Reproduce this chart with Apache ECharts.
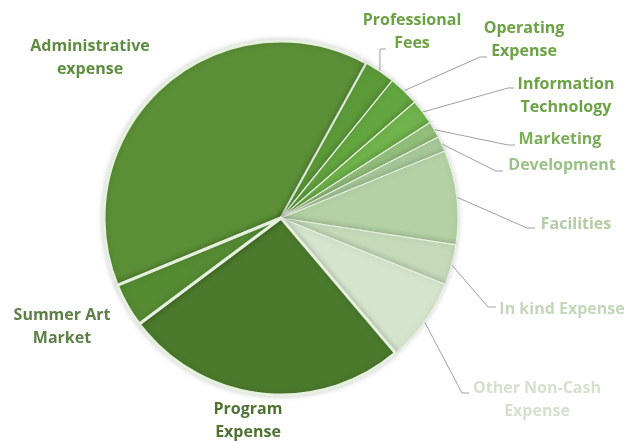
<!DOCTYPE html>
<html>
<head>
<meta charset="utf-8">
<script src="https://cdn.jsdelivr.net/npm/echarts@6/dist/echarts.min.js"></script>
<style>html,body{margin:0;padding:0;background:#fff}#c{width:629px;height:441px}</style>
</head>
<body>
<div id="c"></div>
<script>
// ---- data ----
const categories = ['Administrative\nexpense','Professional\nFees','Operating\nExpense','Information\nTechnology','Marketing','Development','Facilities','In kind Expense','Other Non-Cash\nExpense','Program\nExpense','Summer Art\nMarket'];
const values = [39.3, 2.8, 2.8, 2.3, 1.5, 1.4, 8.6, 3.7, 7.7, 26.0, 4.0];

// ---- styles ----
const sliceColors = ['#5b8f37','#5c9a39','#63a53f','#6fb34a','#93bf7b','#a7c999','#b4d1a5','#c4dab9','#d5e5cd','#4b7a2c','#558b33'];
const labelColors = ['#5e8c40','#6aa244','#6aa244','#6aa244','#79ad58','#9cc188','#b2cca5','#c4d7ba','#d5e1ce','#4d7232','#5e7f48'];
const showLine = [false,true,true,true,true,true,true,true,true,false,false];
const thick = [true,false,false,false,false,false,false,false,false,true,true];
// label text centre and leader elbow/end points
const labelPos = [[90,58],[412,32],[524,40],[566,96],[560,139],[562,165],[576,224],[562,309],[537,400],[248,421],[62,327]];
const elbows = [null,[[380,49],[386,49]],[[480,57],[487,57]],[[508,88],[514,88]],[[508,145],[515,145]],[[496,171],[503,171]],[[527,228],[535,228]],[[488,307],[496,307]],[[462,393],[469,393]],null,null];

const chart = echarts.init(document.getElementById('c'), null, {renderer:'canvas'});
const data = categories.map((n,i)=>({
  name:n, value:values[i],
  itemStyle:{color:sliceColors[i], borderColor:'#e6f0df', borderWidth: thick[i]?3:1.2},
  label:{color:labelColors[i]},
  labelLine:{show:showLine[i]}
}));
chart.setOption({
  animation:false,
  series:[{
    type:'pie',
    center:[281,218],
    radius:[0,177],
    startAngle:202.4,
    clockwise:true,
    data:data,
    itemStyle:{shadowBlur:6, shadowColor:'rgba(0,0,0,0.18)'},
    label:{
      show:true, position:'outside', formatter:'{b}',
      fontFamily:'Open Sans', fontWeight:'bold', fontSize:16, lineHeight:23,
      align:'center', overflow:'none', edgeDistance:0
    },
    labelLine:{show:true, lineStyle:{color:'#a0a0a0', width:1}, length:10, length2:10},
    labelLayout:function(p){
      const i = p.dataIndex;
      const pos = labelPos[i];
      const r = {x:pos[0], y:pos[1], align:'center', verticalAlign:'middle'};
      if (elbows[i] && p.labelLinePoints) {
        r.labelLinePoints = [p.labelLinePoints[0], elbows[i][0], elbows[i][1]];
      }
      return r;
    }
  }]
});
</script>
</body>
</html>
